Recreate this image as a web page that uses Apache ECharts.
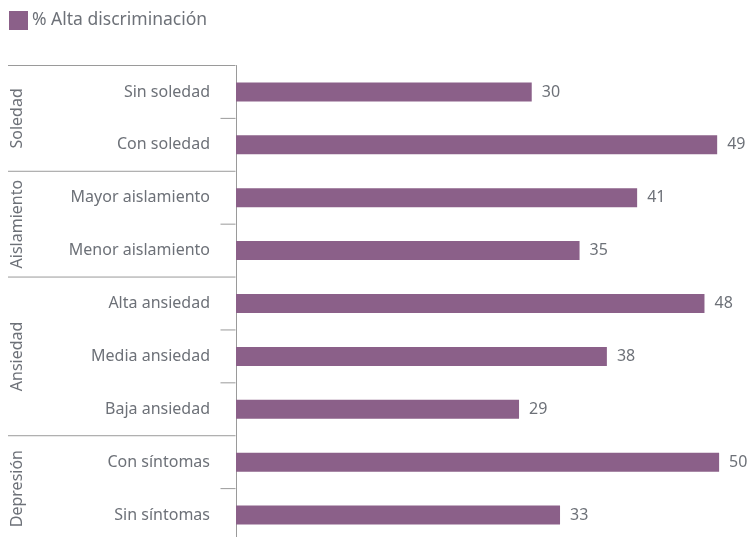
<!DOCTYPE html>
<html><head><meta charset="utf-8">
<script src="https://cdn.jsdelivr.net/npm/echarts@6/dist/echarts.min.js"></script>
<style>html,body{margin:0;padding:0;background:#fff;overflow:hidden}#c{width:750px;height:542px}</style>
</head><body><div id="c"></div>
<script>
const categories = ['Sin soledad','Con soledad','Mayor aislamiento','Menor aislamiento','Alta ansiedad','Media ansiedad','Baja ansiedad','Con síntomas','Sin síntomas'];
const values = [30.3,49.3,41.1,35.2,48.0,38.0,29.0,49.5,33.2];
const groups = ['Soledad','Aislamiento','Ansiedad','Depresión'];
const groupSizes = [2,2,3,2];
const seriesName = '% Alta discriminación';

const FONT = 'Noto Sans';
const TXT = '#6d7178';
const LINE = '#9a9a9a';
const BAR = '#8b6089';

const chart = echarts.init(document.getElementById('c'), null, {renderer:'canvas'});
chart.setOption({
  animation:false,
  textStyle:{fontFamily:FONT},
  legend:{left:4,top:6,itemWidth:19,itemHeight:19,itemGap:4,icon:'rect',
    textStyle:{fontSize:17.5,color:TXT,fontFamily:FONT,padding:[0,0,0,-1]},data:[seriesName]},
  grid:{left:236,top:65.5,width:488,height:476},
  xAxis:{type:'value',min:0,max:50,show:false},
  yAxis:{type:'category',inverse:true,data:categories,
    axisLine:{show:true,lineStyle:{color:LINE,width:1}},
    axisTick:{show:false},
    axisLabel:{margin:26,fontSize:16,color:TXT,fontFamily:FONT}},
  series:[{type:'bar',name:seriesName,data:values,barWidth:19,itemStyle:{color:BAR},
    label:{show:true,position:'right',distance:10,fontSize:16,color:TXT,fontFamily:FONT,
      formatter:p=>String(Math.round(p.value))}}]
});

// separators and group labels derived from the axis scale
const y0 = chart.convertToPixel({yAxisIndex:0}, 0);
const y1 = chart.convertToPixel({yAxisIndex:0}, 1);
const band = y1 - y0;
const edge = i => y0 + (i - 0.5) * band;
const axisX = chart.convertToPixel({xAxisIndex:0}, 0) - 0.5;
const g = [];
let idx = 0;
groups.forEach((name, gi) => {
  const start = idx, end = idx + groupSizes[gi];
  g.push({type:'line',shape:{x1:8,y1:edge(start),x2:axisX,y2:edge(start)},style:{stroke:LINE,lineWidth:1}});
  for (let k = start + 1; k < end; k++) {
    g.push({type:'line',shape:{x1:axisX-15,y1:edge(k),x2:axisX,y2:edge(k)},style:{stroke:LINE,lineWidth:1}});
  }
  const cy = (edge(start) + edge(end)) / 2;
  g.push({type:'text',x:17,y:cy,rotation:Math.PI/2,
    style:{text:name,fill:TXT,font:'16px "'+FONT+'"',align:'center',verticalAlign:'middle'}});
  idx = end;
});
chart.setOption({graphic:g});
</script></body></html>
